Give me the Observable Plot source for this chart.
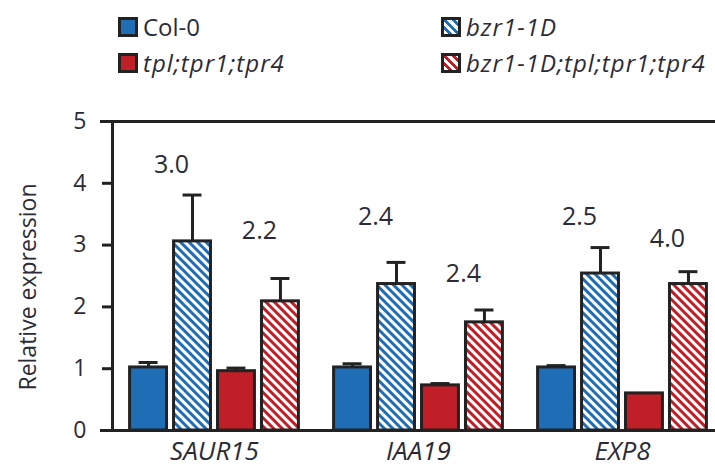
<!DOCTYPE html>
<html><head><meta charset="utf-8">
<script src="https://cdn.jsdelivr.net/npm/d3@7"></script>
<script src="https://cdn.jsdelivr.net/npm/@observablehq/plot@0.6"></script>
<style>
body{margin:0;background:#fff;font-family:"Open Sans",Lato,sans-serif;}
#wrap{position:relative;width:715px;height:470px;overflow:hidden;}
#chart{position:absolute;left:0;top:0;}
.leg{position:absolute;display:flex;align-items:center;font-size:24px;color:#2b2b36;height:20px;line-height:20px;white-space:nowrap;}
.leg i{font-style:italic;font-size:24px;letter-spacing:1px;}
.sw{width:14px;height:14px;border:3px solid #222;margin-right:5px;box-sizing:content-box;}
.ylab{position:absolute;left:27px;top:287px;transform:translate(-50%,-50%) rotate(-90deg);font-size:23px;color:#2b2b36;white-space:nowrap;}
</style></head><body>
<svg width="0" height="0" style="position:absolute">
  <defs>
    <pattern id="hatch-blue" patternUnits="userSpaceOnUse" width="6" height="6" patternTransform="rotate(45)">
      <rect width="6" height="6" fill="#ffffff"/><rect width="6" height="3" fill="#1f6db5"/>
    </pattern>
    <pattern id="hatch-red" patternUnits="userSpaceOnUse" width="6" height="6" patternTransform="rotate(45)">
      <rect width="6" height="6" fill="#ffffff"/><rect width="6" height="3" fill="#c01f27"/>
    </pattern>
  </defs>
</svg>
<div id="wrap">
  <div id="chart"></div>
  <div class="ylab">Relative expression</div>
</div>
<script>
const genes = ["SAUR15", "IAA19", "EXP8"];
const genotypes = ["Col-0", "bzr1-1D", "tpl;tpr1;tpr4", "bzr1-1D;tpl;tpr1;tpr4"];
const genotypeItalic = [false, true, true, true];
const genotypeFill = ["#1f6db5", "url(#hatch-blue)", "#c01f27", "url(#hatch-red)"];

const meanSAUR15 = [1.02, 3.06, 0.96, 2.09];
const errSAUR15  = [0.08, 0.75, 0.05, 0.37];
const meanIAA19  = [1.02, 2.37, 0.73, 1.75];
const errIAA19   = [0.06, 0.35, 0.03, 0.20];
const meanEXP8   = [1.02, 2.54, 0.60, 2.37];
const errEXP8    = [0.03, 0.42, 0.00, 0.20];

// fold-change annotations
const foldGenes = ["SAUR15", "SAUR15", "IAA19", "IAA19", "EXP8", "EXP8"];
const foldGenotypes = ["bzr1-1D", "bzr1-1D;tpl;tpr1;tpr4", "bzr1-1D", "bzr1-1D;tpl;tpr1;tpr4", "bzr1-1D", "bzr1-1D;tpl;tpr1;tpr4"];
const foldLabels = ["3.0", "2.2", "2.4", "2.4", "2.5", "4.0"];
const foldY = [4.30, 3.23, 3.46, 2.54, 3.46, 3.10];

const yTicks = [0, 1, 2, 3, 4, 5];

const means = {SAUR15: meanSAUR15, IAA19: meanIAA19, EXP8: meanEXP8};
const errs = {SAUR15: errSAUR15, IAA19: errIAA19, EXP8: errEXP8};
const data = genes.flatMap(g => genotypes.map((t, i) => ({gene: g, genotype: t, value: means[g][i], err: errs[g][i], fill: genotypeFill[i]})));
const errData = data.filter(d => d.err > 0);
const folds = foldLabels.map((l, i) => ({gene: foldGenes[i], genotype: foldGenotypes[i], label: l, y: foldY[i]}));

const ink = "#222222";
const txt = "#2b2b36";
const chart = Plot.plot({
  width: 715, height: 470,
  marginLeft: 112, marginRight: 0, marginTop: 121, marginBottom: 40,
  style: {fontFamily: "'Open Sans', Lato, sans-serif", background: "transparent", overflow: "visible"},
  fx: {domain: genes, range: [112, 724], paddingInner: 0, paddingOuter: 0},
  x: {domain: genotypes, paddingInner: 0.16, paddingOuter: 0.4, round: false, axis: null},
  y: {domain: [0, 5]},
  color: {type: "identity"},
  marks: [
    Plot.barY(data, {fx: "gene", x: "genotype", y: "value", fill: "fill", stroke: ink, strokeWidth: 3}),
    Plot.ruleX(errData, {fx: "gene", x: "genotype", y1: "value", y2: d => d.value + d.err, stroke: ink, strokeWidth: 3}),
    Plot.tickY(errData, {fx: "gene", x: "genotype", y: d => d.value + d.err, stroke: ink, strokeWidth: 3, insetLeft: 9, insetRight: 9}),
    Plot.text(folds, {fx: "gene", x: "genotype", y: "y", text: "label", dx: -21, fontSize: 25, fill: txt}),
    Plot.ruleY([0, 5], {stroke: ink, strokeWidth: 3, insetLeft: -12, insetRight: -12}),
    Plot.frame({anchor: "left", facetAnchor: "left", stroke: ink, strokeWidth: 3}),
    Plot.axisY({ticks: yTicks, tickFormat: d3.format("d"), tickSize: 10, tickPadding: 16, fontSize: 23, stroke: ink, strokeWidth: 3, fill: txt, label: null}),
    Plot.axisFx({anchor: "bottom", tickSize: 0, tickPadding: 11, fontSize: 26, fontStyle: "italic", fill: txt, label: null})
  ]
});
document.getElementById("chart").appendChild(chart);

// legend (HTML, above the plot)
const legPos = [[118, 17], [441, 17], [118, 53], [441, 53]];
const wrap = document.getElementById("wrap");
genotypes.forEach((name, gi) => {
  const d = document.createElement("div");
  d.className = "leg";
  d.style.left = legPos[gi][0] + "px";
  d.style.top = legPos[gi][1] + "px";
  const sw = document.createElement("div");
  sw.className = "sw";
  const f = genotypeFill[gi];
  if (f.startsWith("url")) {
    const c = f.includes("blue") ? "#1f6db5" : "#c01f27";
    sw.style.background = `repeating-linear-gradient(45deg, #fff 0 3px, ${c} 3px 6px)`;
  } else sw.style.background = f;
  d.appendChild(sw);
  const t = document.createElement(genotypeItalic[gi] ? "i" : "span");
  t.textContent = name;
  d.appendChild(t);
  wrap.appendChild(d);
});
</script>
</body></html>
